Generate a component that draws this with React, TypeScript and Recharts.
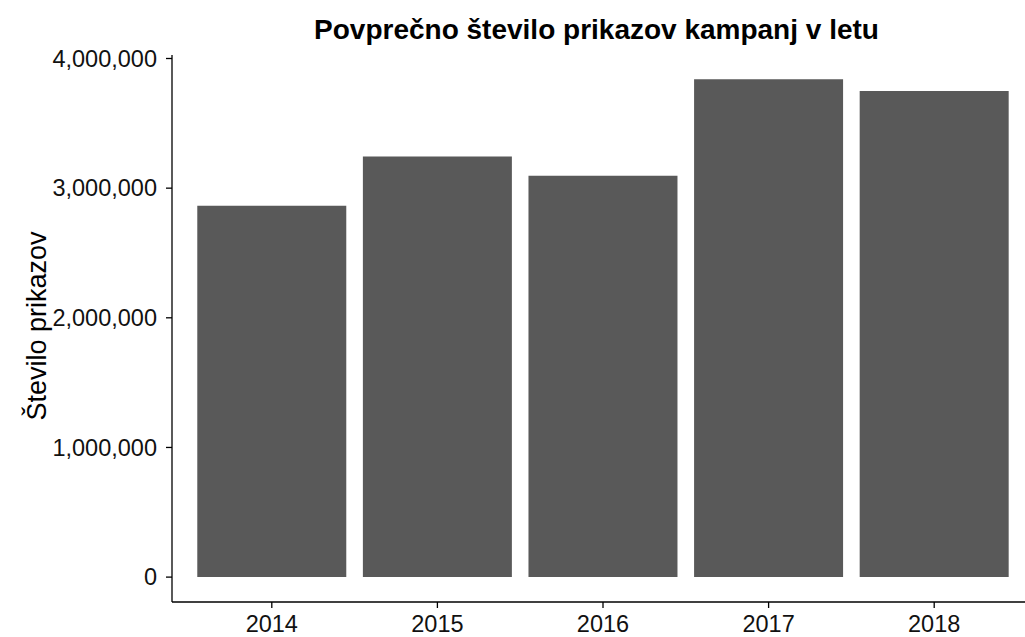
import React from 'react';
import { BarChart, Bar, XAxis, YAxis } from 'recharts';

const years = ['2014', '2015', '2016', '2017', '2018'];
const avgViews = [2864000, 3245000, 3095000, 3839000, 3749000];
const yTicks = [0, 1000000, 2000000, 3000000, 4000000];

const data = years.map((year, i) => ({ year, views: avgViews[i] }));

const font = '"Liberation Sans", Arial, Helvetica, sans-serif';

const YLabel = () => (
  <text
    transform="translate(46,326) rotate(-90)"
    textAnchor="middle"
    fontFamily={font}
    fontSize={27}
    fill="#000"
  >
    Število prikazov
  </text>
);

export default function App() {
  return (
    <div style={{ position: 'absolute', left: 0, top: 0, width: 1025, height: 637, overflow: 'hidden', background: '#fff' }}>
      <div
        style={{
          position: 'absolute',
          left: 296.5,
          width: 600,
          top: 15.5,
          textAlign: 'center',
          fontFamily: font,
          fontWeight: 'bold',
          fontSize: 28,
          lineHeight: '28px',
          color: '#000',
          whiteSpace: 'nowrap',
        }}
      >
        Povprečno število prikazov kampanj v letu
      </div>
      <BarChart
        width={1034}
        height={637}
        data={data}
        margin={{ top: 55, right: 0, bottom: 0, left: 0 }}
        barCategoryGap="5%"
      >
        <XAxis
          dataKey="year"
          height={35}
          padding={{ left: 17, right: 17 }}
          tickSize={6}
          tickMargin={7}
          axisLine={{ stroke: '#000', strokeWidth: 1.3 }}
          tickLine={{ stroke: '#000', strokeWidth: 1.3 }}
          tick={{ fill: '#111', fontSize: 23.5, fontFamily: font }}
        />
        <YAxis
          width={172}
          type="number"
          domain={[-192000, 4027000]}
          ticks={yTicks}
          allowDataOverflow
          tickSize={6}
          tickMargin={9}
          tickFormatter={(v: number) => v.toLocaleString('en-US')}
          axisLine={{ stroke: '#000', strokeWidth: 1.3 }}
          tickLine={{ stroke: '#000', strokeWidth: 1.3 }}
          tick={{ fill: '#111', fontSize: 23.5, fontFamily: font }}
          label={{ content: () => <YLabel /> }}
        />
        <Bar dataKey="views" fill="#595959" isAnimationActive={false} />
      </BarChart>
    </div>
  );
}
